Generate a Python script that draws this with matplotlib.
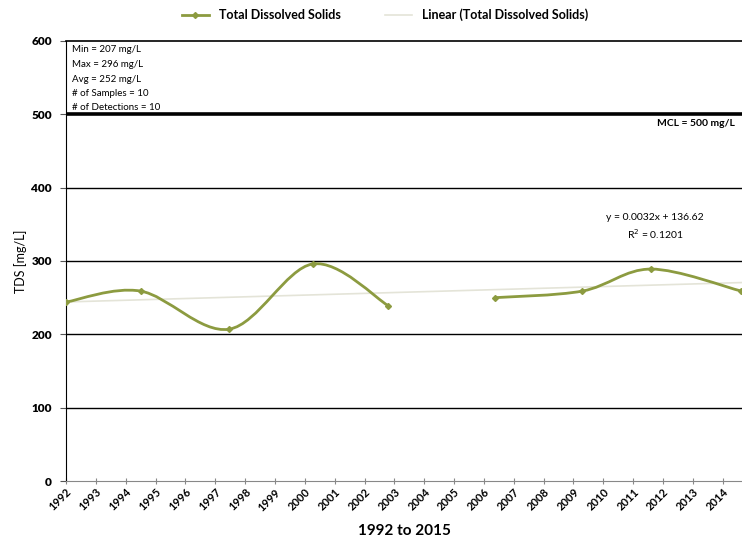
import numpy as np
import matplotlib
matplotlib.use("Agg")
import matplotlib.pyplot as plt
import matplotlib.dates as mdates
from matplotlib.path import Path
from matplotlib.patches import PathPatch
import datetime as dt

plt.rcParams['font.family'] = ['Lato', 'DejaVu Sans']

# ---- data ----
seg1_dates = ["1992-01-01", "1994-07-01", "1997-06-18", "2000-04-08", "2002-10-19"]
seg1_vals = [244, 259, 207, 296, 239]
seg2_dates = ["2006-05-15", "2009-04-20", "2011-08-08", "2014-08-15"]
seg2_vals = [250, 259, 289, 259]
year_ticks = list(range(1992, 2015))
trend_slope = 0.0032
trend_intercept = 136.62
stats_lines = ["Min = 207 mg/L", "Max = 296 mg/L", "Avg = 252 mg/L",
               "# of Samples = 10", "# of Detections = 10"]
mcl_value = 500

GREEN = "#8C9B40"

fig = plt.figure(figsize=(7.42, 5.42), dpi=100)
ax = fig.add_axes([66/742, 1-481/542, (742-66)/742, (481-41)/542])

def to_num(ds):
    return np.array([mdates.date2num(dt.datetime.strptime(d, "%Y-%m-%d")) for d in ds])

def smooth_path(x, y):
    pts = np.column_stack([x, y])
    n = len(pts)
    verts = [pts[0]]
    codes = [Path.MOVETO]
    for i in range(n - 1):
        p0 = pts[i - 1] if i > 0 else pts[i]
        p1 = pts[i]
        p2 = pts[i + 1]
        p3 = pts[i + 2] if i + 2 < n else pts[i + 1]
        c1 = p1 + (p2 - p0) / 6.0
        c2 = p2 - (p3 - p1) / 6.0
        verts += [c1, c2, p2]
        codes += [Path.CURVE4] * 3
    return Path(verts, codes)

xmin = mdates.date2num(dt.datetime(1992, 1, 1))
xmax = mdates.date2num(dt.datetime(2014, 8, 25))

# trend line (Excel serial date = matplotlib datenum + 25569)
tx = np.array([xmin, xmax])
ty = trend_slope * (tx + 25569) + trend_intercept
ax.plot(tx, ty, color="#E4E4D8", lw=1.2, zorder=2)

for ds, vs in [(seg1_dates, seg1_vals), (seg2_dates, seg2_vals)]:
    x = to_num(ds)
    y = np.array(vs, dtype=float)
    ax.add_patch(PathPatch(smooth_path(x, y), facecolor="none", edgecolor=GREEN, lw=2.0, zorder=3))
    ax.plot(x, y, linestyle="none", marker="D", ms=3.0, color=GREEN, zorder=4)

# gridlines
for v in [100, 200, 300, 400]:
    ax.axhline(v, color="black", lw=1.0, zorder=1)
ax.axhline(mcl_value, color="black", lw=2.6, zorder=1)

ax.set_xlim(xmin, xmax)
ax.set_ylim(0, 600)
ax.set_yticks([0, 100, 200, 300, 400, 500, 600])
ax.set_yticklabels(["0", "100", "200", "300", "400", "500", "600"], fontsize=8.5, fontweight="heavy")
ticks = [mdates.date2num(dt.datetime(y, 1, 1)) for y in year_ticks]
ax.set_xticks(ticks)
ax.set_xticklabels([str(y) for y in year_ticks], rotation=45, ha="right", va="top",
                   rotation_mode="anchor", fontsize=8, fontweight="bold")
ax.tick_params(axis="x", length=4, color="#888888", direction="inout", pad=2)
ax.tick_params(axis="y", length=4, color="#555555", direction="out", pad=6)

ax.spines["right"].set_visible(False)
ax.spines["top"].set_color("black")
ax.spines["top"].set_linewidth(1.2)
ax.spines["left"].set_color("black")
ax.spines["bottom"].set_color("#888888")

ax.set_ylabel("TDS [mg/L]", fontsize=9, labelpad=3)
ax.set_xlabel("1992 to 2015", fontsize=11, fontweight="bold", labelpad=8)

# stats box
for i, line in enumerate(stats_lines):
    fig.text(72/742, 1 - (50 + 14.5*i)/542, line, fontsize=7, va="center", ha="left")

fig.text(735/742, 1 - 123/542, "MCL = 500 mg/L", fontsize=7.5, fontweight="bold", ha="right", va="center")
fig.text(655/742, 1 - 218/542, "y = 0.0032x + 136.62", fontsize=7.5, ha="center", va="center")
fig.text(655/742, 1 - 234/542, "R$^2$ = 0.1201", fontsize=7.5, ha="center", va="center")

# legend
from matplotlib.lines import Line2D
handles = [Line2D([], [], color=GREEN, lw=2.0, marker="D", ms=3.0),
           Line2D([], [], color="#E4E4D8", lw=1.2)]
fig.legend(handles, ["Total Dissolved Solids", "Linear (Total Dissolved Solids)"],
           loc="center", bbox_to_anchor=(385/742, 1 - 15/542), ncol=2, frameon=False,
           prop={"size": 9, "weight": "bold"}, handlelength=2.2, columnspacing=3.5)

fig.savefig("out.png", dpi=100)
